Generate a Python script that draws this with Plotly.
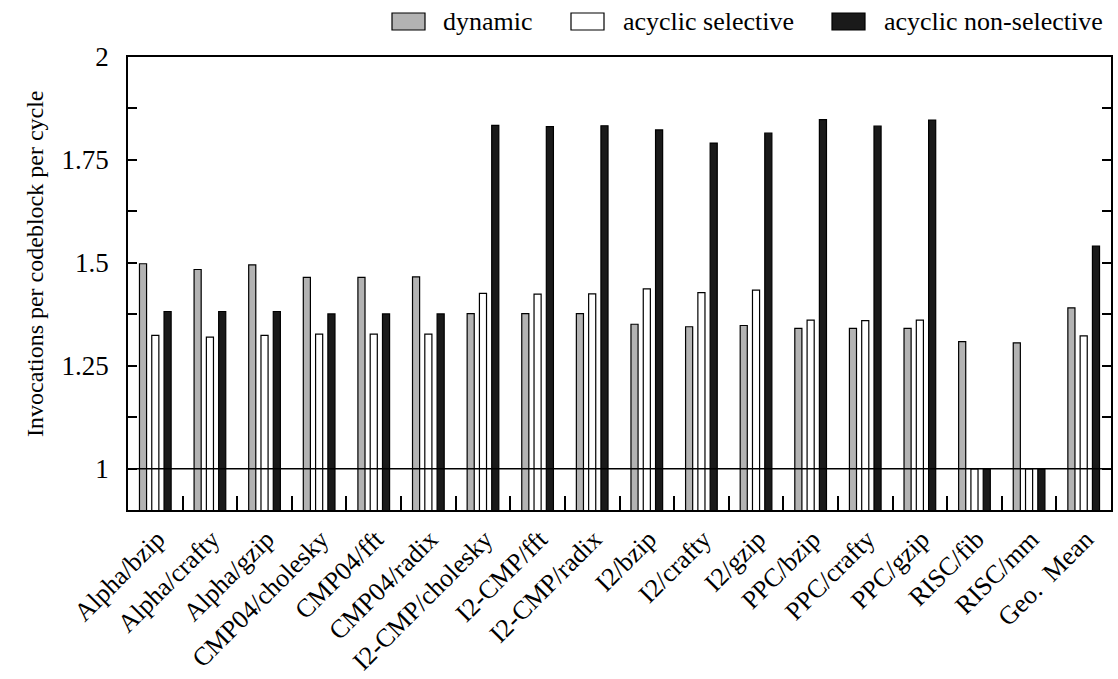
import plotly.graph_objects as go

# Benchmark configurations on the x axis
categories = [
    "Alpha/bzip", "Alpha/crafty", "Alpha/gzip", "CMP04/cholesky", "CMP04/fft",
    "CMP04/radix", "I2-CMP/cholesky", "I2-CMP/fft", "I2-CMP/radix", "I2/bzip",
    "I2/crafty", "I2/gzip", "PPC/bzip", "PPC/crafty", "PPC/gzip",
    "RISC/fib", "RISC/mm", "Geo.  Mean",
]

# Invocations per codeblock per cycle, per scheduling scheme
dynamic = [1.498, 1.484, 1.495, 1.465, 1.465, 1.466, 1.377, 1.377, 1.377,
           1.351, 1.345, 1.348, 1.341, 1.341, 1.341, 1.309, 1.306, 1.391]
acyclic_selective = [1.324, 1.320, 1.324, 1.327, 1.327, 1.327, 1.426, 1.424, 1.425,
                     1.437, 1.428, 1.434, 1.361, 1.360, 1.361, 1.000, 1.000, 1.323]
acyclic_non_selective = [1.382, 1.382, 1.382, 1.376, 1.376, 1.376, 1.834, 1.831, 1.833,
                         1.823, 1.791, 1.815, 1.848, 1.832, 1.847, 1.000, 1.000, 1.541]

series_names = ["dynamic", "acyclic selective", "acyclic non-selective"]
series_values = [dynamic, acyclic_selective, acyclic_non_selective]
fills = ["#b3b3b3", "#ffffff", "#1a1a1a"]

y_tick_vals = [1.0, 1.125, 1.25, 1.375, 1.5, 1.625, 1.75, 1.875, 2.0]
y_tick_text = ["1", "", "1.25", "", "1.5", "", "1.75", "", "2"]
y_title = "Invocations per codeblock per cycle"

FONT = "Liberation Serif"
W, H = 1118, 679
ML, MR, MT, MB = 128, 7, 57, 169

bar_w = 0.13
centers = [-0.225, 0.0, 0.225]

fig = go.Figure()
for name, vals, col, c in zip(series_names, series_values, fills, centers):
    fig.add_trace(go.Bar(
        x=categories, y=vals, name=name, base=0,
        width=bar_w, offset=c - bar_w / 2,
        marker=dict(color=col, line=dict(color="black", width=1.2)),
        showlegend=False,
    ))

# reference line at 1
fig.add_shape(type="line", xref="paper", yref="y", x0=0, x1=1, y0=1, y1=1,
              line=dict(color="black", width=1.5), layer="above")

# legend drawn as boxes with text, placed in pixel terms above the plot
pw = W - ML - MR
ph = H - MT - MB


def px_x(px):
    return (px - ML) / pw


def px_y(py):
    return (H - MB - py) / ph


legend_items = [
    (392, 441, "dynamic"),
    (571, 621, "acyclic selective"),
    (832, 882, "acyclic non-selective"),
]
for (bx, tx, label), col in zip(legend_items, fills):
    fig.add_shape(type="rect", xref="paper", yref="paper",
                  x0=px_x(bx), x1=px_x(bx + 33), y0=px_y(30), y1=px_y(13),
                  fillcolor=col, line=dict(color="black", width=1.2))
    fig.add_annotation(xref="paper", yref="paper", x=px_x(tx), y=px_y(21),
                       text=label, showarrow=False, xanchor="left", yanchor="middle",
                       font=dict(family=FONT, size=26, color="black"))

# vertical axis title
fig.add_annotation(xref="paper", yref="paper", x=px_x(35), y=px_y(264),
                   text=y_title, textangle=-90, showarrow=False,
                   xanchor="center", yanchor="middle",
                   font=dict(family=FONT, size=24, color="black"))

fig.update_layout(
    width=W, height=H,
    margin=dict(l=ML, r=MR, t=MT, b=MB, autoexpand=False),
    barmode="overlay",
    plot_bgcolor="white", paper_bgcolor="white",
    font=dict(family=FONT, size=24, color="black"),
    showlegend=False,
)

fig.update_xaxes(
    type="category", range=[-0.5, 17.5],
    showline=True, linecolor="black", linewidth=1.5, mirror=True,
    ticks="inside", tickson="boundaries", ticklen=14, tickwidth=1.5, tickcolor="black",
    tickangle=-45, tickfont=dict(family=FONT, size=26),
    ticklabelshift=2, ticklabelstandoff=2,
    showgrid=False, zeroline=False,
)
fig.update_yaxes(
    range=[0.9, 2.0],
    tickvals=y_tick_vals, ticktext=y_tick_text,
    showline=True, linecolor="black", linewidth=1.5, mirror="ticks",
    ticks="inside", ticklen=9, tickwidth=1.5, tickcolor="black",
    tickfont=dict(family=FONT, size=27), ticklabelstandoff=12,
    showgrid=False, zeroline=False,
)

fig.write_html("out.html")
